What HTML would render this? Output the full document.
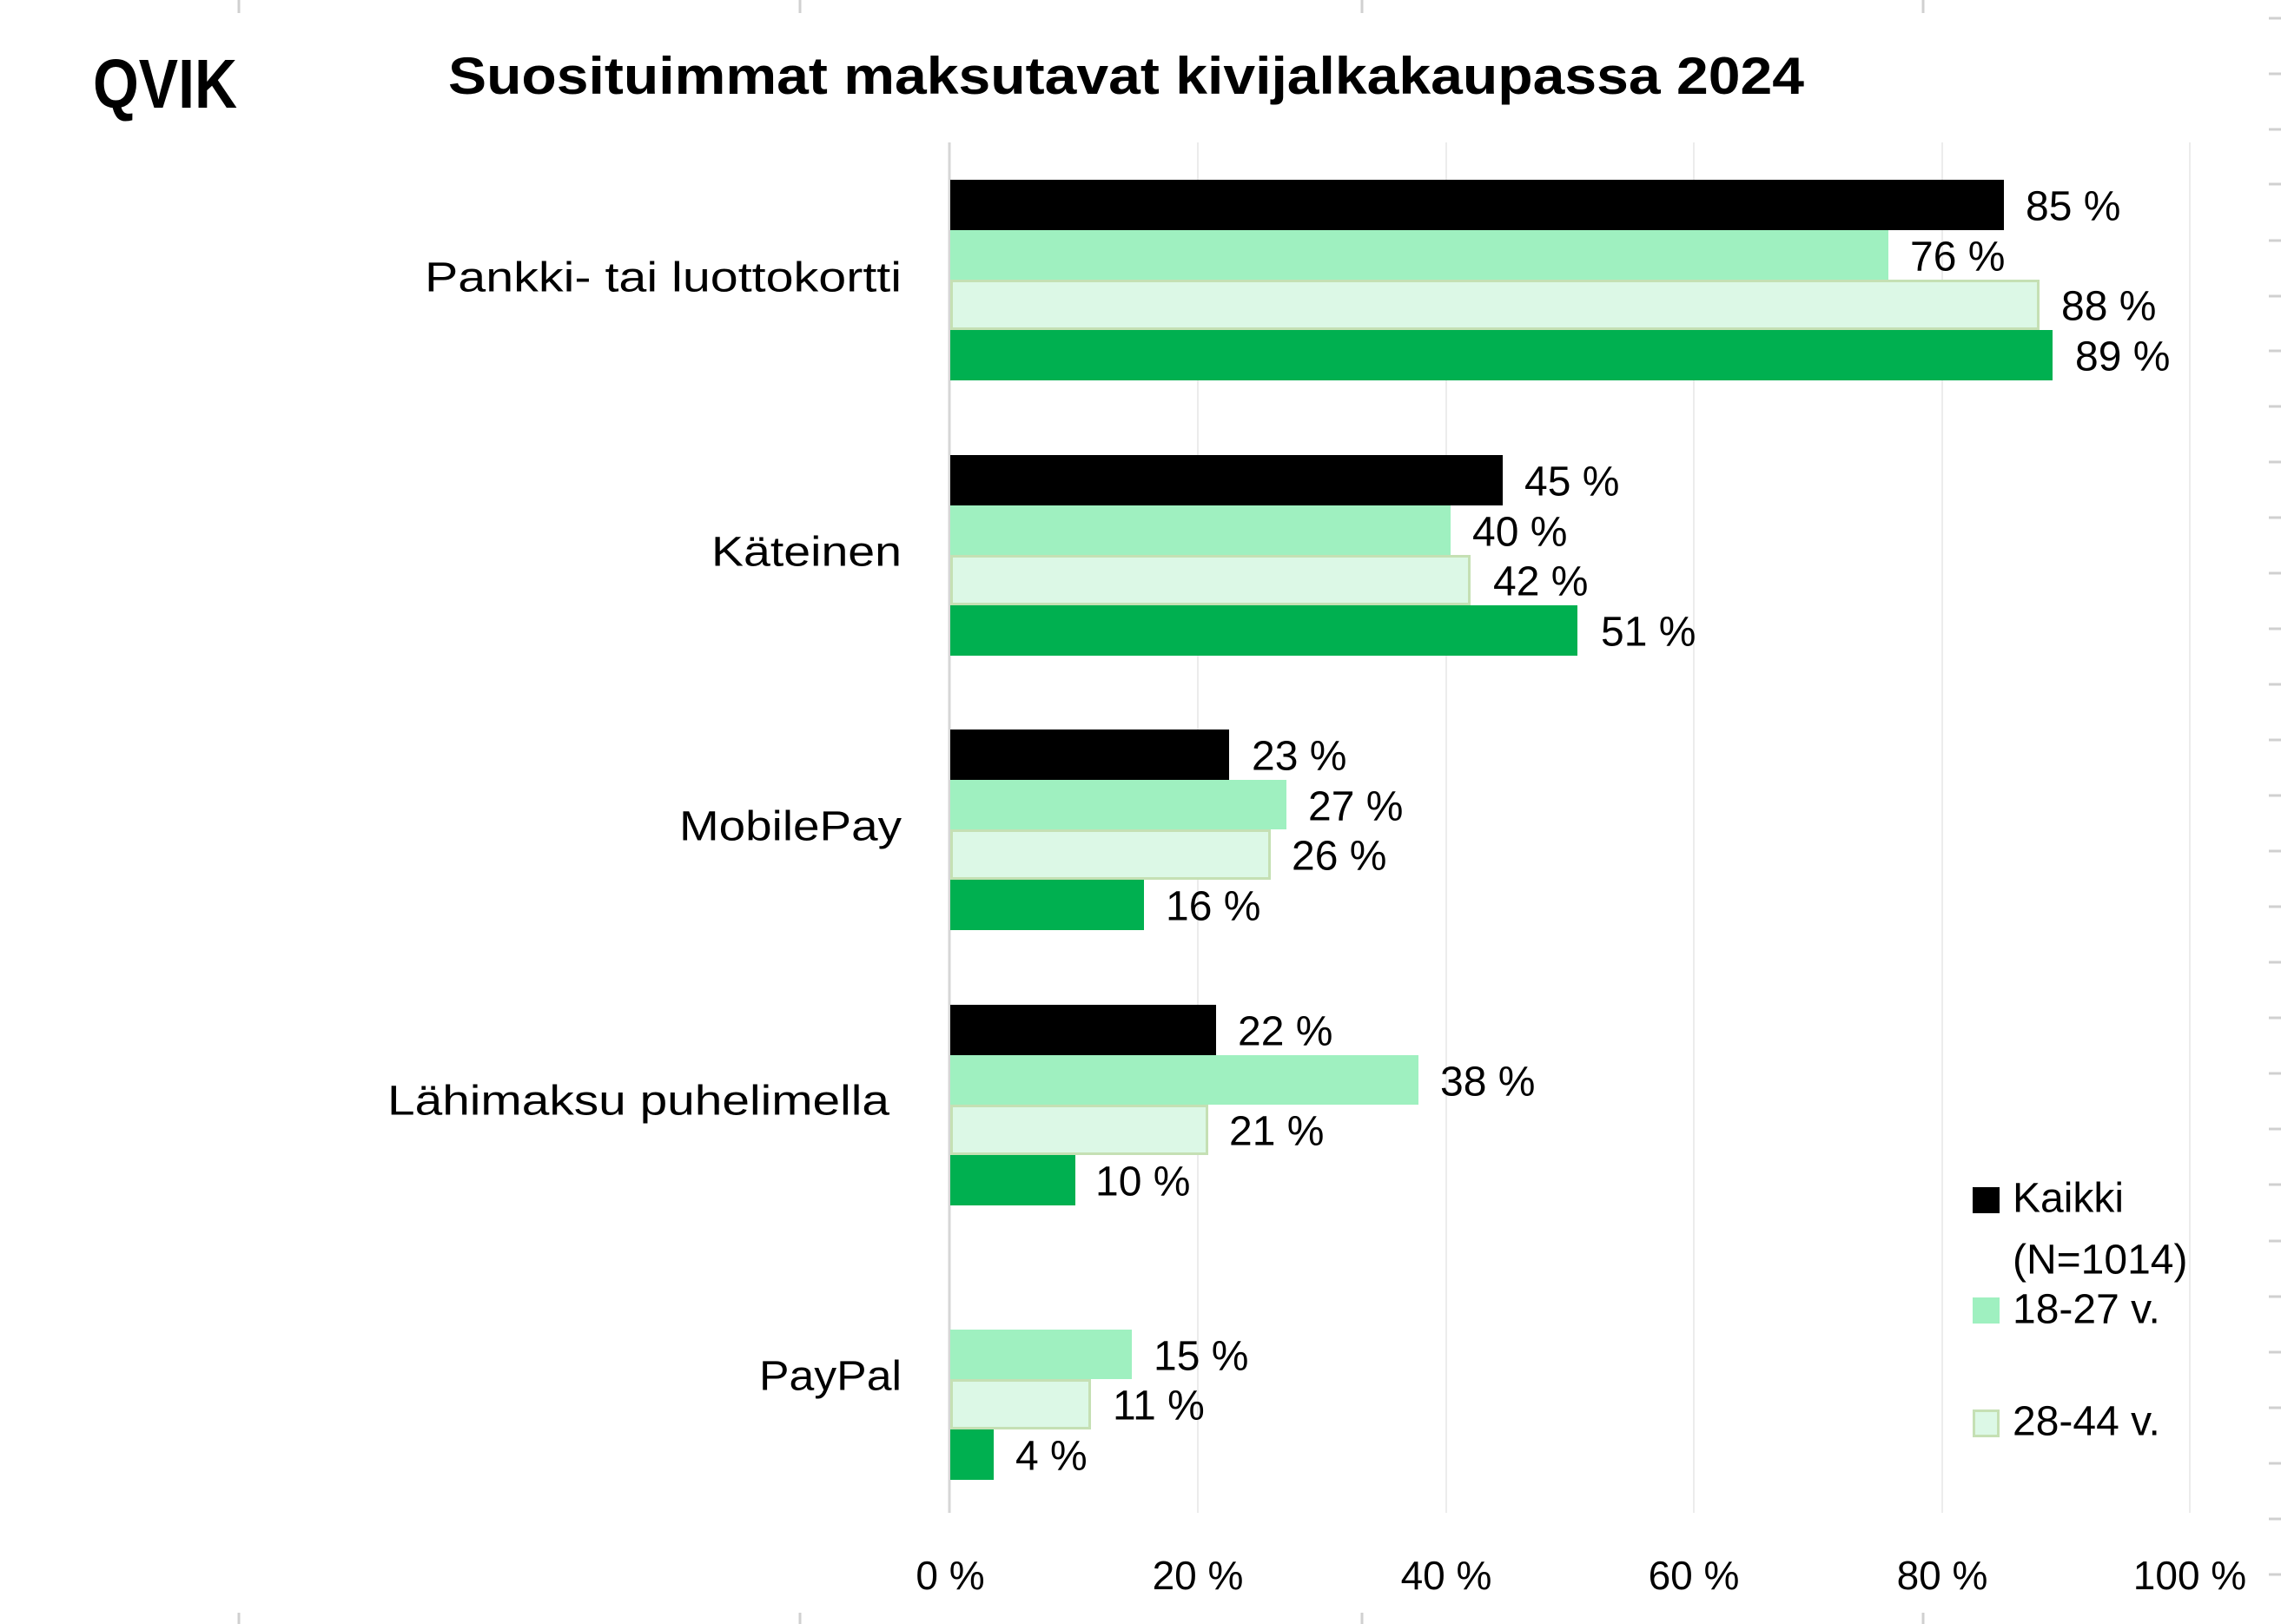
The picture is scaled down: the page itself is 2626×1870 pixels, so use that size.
<!DOCTYPE html>
<html><head><meta charset="utf-8"><style>html,body{margin:0;padding:0;background:#fff}svg{display:block}text{font-family:"Liberation Sans",sans-serif}</style></head>
<body>
<svg width="2626" height="1870" viewBox="0 0 2626 1870" xmlns="http://www.w3.org/2000/svg">
<rect width="2626" height="1870" fill="#fff"/>
<g stroke="#d0d0d0" stroke-width="3">
<line x1="275" y1="0" x2="275" y2="15"/><line x1="921" y1="0" x2="921" y2="15"/><line x1="1568" y1="0" x2="1568" y2="15"/><line x1="2214" y1="0" x2="2214" y2="15"/>
<line x1="275" y1="1857" x2="275" y2="1870"/><line x1="921" y1="1857" x2="921" y2="1870"/><line x1="1568" y1="1857" x2="1568" y2="1870"/><line x1="2214" y1="1857" x2="2214" y2="1870"/>
<line x1="2612" y1="21" x2="2626" y2="21"/><line x1="2612" y1="85" x2="2626" y2="85"/><line x1="2612" y1="149" x2="2626" y2="149"/><line x1="2612" y1="212" x2="2626" y2="212"/><line x1="2612" y1="277" x2="2626" y2="277"/><line x1="2612" y1="341" x2="2626" y2="341"/><line x1="2612" y1="404" x2="2626" y2="404"/><line x1="2612" y1="468" x2="2626" y2="468"/><line x1="2612" y1="532" x2="2626" y2="532"/><line x1="2612" y1="596" x2="2626" y2="596"/><line x1="2612" y1="660" x2="2626" y2="660"/><line x1="2612" y1="724" x2="2626" y2="724"/><line x1="2612" y1="788" x2="2626" y2="788"/><line x1="2612" y1="852" x2="2626" y2="852"/><line x1="2612" y1="916" x2="2626" y2="916"/><line x1="2612" y1="980" x2="2626" y2="980"/><line x1="2612" y1="1044" x2="2626" y2="1044"/><line x1="2612" y1="1108" x2="2626" y2="1108"/><line x1="2612" y1="1172" x2="2626" y2="1172"/><line x1="2612" y1="1236" x2="2626" y2="1236"/><line x1="2612" y1="1300" x2="2626" y2="1300"/><line x1="2612" y1="1364" x2="2626" y2="1364"/><line x1="2612" y1="1429" x2="2626" y2="1429"/><line x1="2612" y1="1493" x2="2626" y2="1493"/><line x1="2612" y1="1557" x2="2626" y2="1557"/><line x1="2612" y1="1621" x2="2626" y2="1621"/><line x1="2612" y1="1685" x2="2626" y2="1685"/><line x1="2612" y1="1749" x2="2626" y2="1749"/><line x1="2612" y1="1813" x2="2626" y2="1813"/>
</g>
<text x="107" y="124" font-size="80" font-weight="bold" textLength="166" lengthAdjust="spacingAndGlyphs">QVIK</text>
<text x="516" y="108" font-size="60" font-weight="bold" textLength="1561" lengthAdjust="spacingAndGlyphs">Suosituimmat maksutavat kivijalkakaupassa 2024</text>
<g stroke="#ececec" stroke-width="2">
<line x1="1379" y1="164" x2="1379" y2="1742"/><line x1="1665" y1="164" x2="1665" y2="1742"/><line x1="1950" y1="164" x2="1950" y2="1742"/><line x1="2236" y1="164" x2="2236" y2="1742"/><line x1="2521" y1="164" x2="2521" y2="1742"/>
</g>
<line x1="1093" y1="164" x2="1093" y2="1742" stroke="#d6d6d6" stroke-width="3"/>
<g>
<rect x="1094" y="207" width="1213" height="58" fill="#000"/>
<rect x="1094" y="265" width="1080" height="57" fill="#9ff0c0"/>
<rect x="1095.5" y="323.5" width="1251" height="55" fill="#dcf8e6" stroke="#c5e0b4" stroke-width="3"/>
<rect x="1094" y="380" width="1269" height="58" fill="#00b050"/>

<rect x="1094" y="524" width="636" height="58" fill="#000"/>
<rect x="1094" y="582" width="576" height="57" fill="#9ff0c0"/>
<rect x="1095.5" y="640.5" width="596" height="55" fill="#dcf8e6" stroke="#c5e0b4" stroke-width="3"/>
<rect x="1094" y="697" width="722" height="58" fill="#00b050"/>

<rect x="1094" y="840" width="321" height="58" fill="#000"/>
<rect x="1094" y="898" width="387" height="57" fill="#9ff0c0"/>
<rect x="1095.5" y="956.5" width="366" height="55" fill="#dcf8e6" stroke="#c5e0b4" stroke-width="3"/>
<rect x="1094" y="1013" width="223" height="58" fill="#00b050"/>

<rect x="1094" y="1157" width="306" height="58" fill="#000"/>
<rect x="1094" y="1215" width="539" height="57" fill="#9ff0c0"/>
<rect x="1095.5" y="1273.5" width="294" height="55" fill="#dcf8e6" stroke="#c5e0b4" stroke-width="3"/>
<rect x="1094" y="1330" width="144" height="58" fill="#00b050"/>

<rect x="1094" y="1531" width="209" height="57" fill="#9ff0c0"/>
<rect x="1095.5" y="1589.5" width="159" height="55" fill="#dcf8e6" stroke="#c5e0b4" stroke-width="3"/>
<rect x="1094" y="1646" width="50" height="58" fill="#00b050"/>
</g>
<g font-size="48" dominant-baseline="central">
<text x="2332" y="238">85 %</text><text x="2199" y="296">76 %</text><text x="2373" y="353">88 %</text><text x="2389" y="411">89 %</text>
<text x="1755" y="555">45 %</text><text x="1695" y="613">40 %</text><text x="1719" y="670">42 %</text><text x="1843" y="728">51 %</text>
<text x="1441" y="871">23 %</text><text x="1506" y="929">27 %</text><text x="1487" y="986">26 %</text><text x="1342" y="1044">16 %</text>
<text x="1425" y="1188">22 %</text><text x="1658" y="1246">38 %</text><text x="1415" y="1303">21 %</text><text x="1261" y="1361">10 %</text>
<text x="1328" y="1562">15 %</text><text x="1281" y="1619">11 %</text><text x="1169" y="1677">4 %</text>
</g>
<g font-size="48" dominant-baseline="central" lengthAdjust="spacingAndGlyphs">
<text x="489" y="320" textLength="549" lengthAdjust="spacingAndGlyphs">Pankki- tai luottokortti</text>
<text x="819" y="636" textLength="219" lengthAdjust="spacingAndGlyphs">Käteinen</text>
<text x="782" y="952" textLength="256" lengthAdjust="spacingAndGlyphs">MobilePay</text>
<text x="446" y="1268" textLength="578" lengthAdjust="spacingAndGlyphs">Lähimaksu puhelimella</text>
<text x="874" y="1585" textLength="164" lengthAdjust="spacingAndGlyphs">PayPal</text>
</g>
<g font-size="46" text-anchor="middle" dominant-baseline="central">
<text x="1094" y="1814">0 %</text><text x="1379" y="1814">20 %</text><text x="1665" y="1814">40 %</text><text x="1950" y="1814">60 %</text><text x="2236" y="1814">80 %</text><text x="2521" y="1814">100 %</text>
</g>
<rect x="2271" y="1367" width="31" height="30" fill="#000"/>
<rect x="2271" y="1494" width="31" height="30" fill="#9ff0c0"/>
<rect x="2272.5" y="1624.5" width="28" height="29" fill="#dcf8e6" stroke="#c5e0b4" stroke-width="3"/>
<g font-size="48" dominant-baseline="central">
<text x="2317" y="1380">Kaikki</text>
<text x="2317" y="1451">(N=1014)</text>
<text x="2317" y="1508">18-27 v.</text>
<text x="2317" y="1637">28-44 v.</text>
</g>
</svg>
</body></html>
